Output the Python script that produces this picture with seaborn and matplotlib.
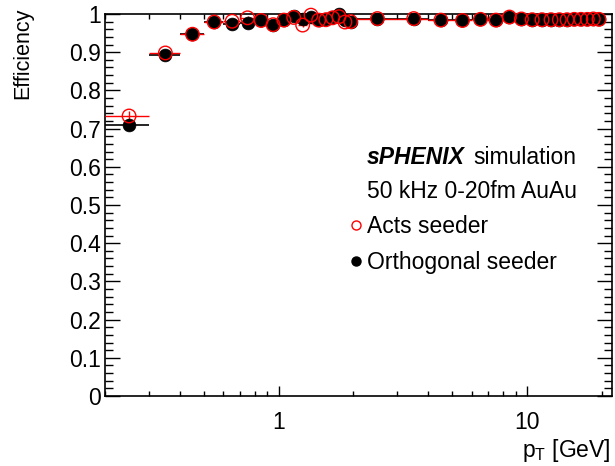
import numpy as np
import pandas as pd
import matplotlib
matplotlib.use("Agg")
import matplotlib.pyplot as plt
from matplotlib.lines import Line2D
from matplotlib.ticker import MultipleLocator, LogLocator, FixedLocator, NullFormatter, FixedFormatter
import seaborn as sns

# ---------------- data ----------------
bin_low = [0.2, 0.3, 0.4, 0.5, 0.6, 0.7, 0.8, 0.9, 1.0, 1.1, 1.2, 1.3, 1.4, 1.5, 1.6, 1.7, 1.8, 1.9,
           2, 3, 4, 5, 6, 7, 8, 9, 10, 11, 12, 13, 14, 15, 16, 17, 18, 19]
bin_high = [0.3, 0.4, 0.5, 0.6, 0.7, 0.8, 0.9, 1.0, 1.1, 1.2, 1.3, 1.4, 1.5, 1.6, 1.7, 1.8, 1.9, 2.0,
            3, 4, 5, 6, 7, 8, 9, 10, 11, 12, 13, 14, 15, 16, 17, 18, 19, 20]
eff_acts = [0.733, 0.898, 0.947, 0.979, 0.981, 0.990, 0.983, 0.972, 0.984, 0.991, 0.971, 0.997,
            0.984, 0.985, 0.990, 0.993, 0.979, 0.980,
            0.988, 0.988, 0.984, 0.983, 0.986, 0.984, 0.992, 0.987, 0.985, 0.985, 0.985, 0.985,
            0.985, 0.986, 0.986, 0.986, 0.987, 0.986]
eff_orth = [0.710, 0.892, 0.947, 0.978, 0.973, 0.977, 0.983, 0.971, 0.983, 0.996, 0.988, 0.991,
            0.983, 0.986, 0.991, 0.999, 0.984, 0.979,
            0.988, 0.988, 0.984, 0.983, 0.986, 0.984, 0.993, 0.987, 0.985, 0.985, 0.985, 0.985,
            0.985, 0.986, 0.986, 0.986, 0.987, 0.986]
err_acts = [0.014, 0.008, 0.006, 0.004, 0.004, 0.004, 0.004, 0.004, 0.004, 0.003, 0.004, 0.003,
            0.003, 0.003, 0.003, 0.003, 0.003, 0.003,
            0.002, 0.002, 0.002, 0.002, 0.002, 0.002, 0.002, 0.002, 0.002, 0.002, 0.002, 0.002,
            0.002, 0.002, 0.002, 0.002, 0.002, 0.002]
err_orth = [0.015, 0.009, 0.006, 0.004, 0.004, 0.004, 0.004, 0.004, 0.004, 0.003, 0.004, 0.003,
            0.003, 0.003, 0.003, 0.003, 0.003, 0.003,
            0.002, 0.002, 0.002, 0.002, 0.002, 0.002, 0.002, 0.002, 0.002, 0.002, 0.002, 0.002,
            0.002, 0.002, 0.002, 0.002, 0.002, 0.002]
y_ticks = [0, 0.1, 0.2, 0.3, 0.4, 0.5, 0.6, 0.7, 0.8, 0.9, 1.0]
y_ticklabels = ["0", "0.1", "0.2", "0.3", "0.4", "0.5", "0.6", "0.7", "0.8", "0.9", "1"]
x_ticks = [1, 10]
x_ticklabels = ["1", "10"]
series_names = ["Acts seeder", "Orthogonal seeder"]

# ---------------- style ----------------
sns.set_theme(style="ticks")
plt.rcParams['font.family'] = ['Liberation Sans', 'DejaVu Sans']
plt.rcParams['mathtext.fontset'] = 'custom'
plt.rcParams['mathtext.rm'] = 'Liberation Sans'
plt.rcParams['text.color'] = 'black'
plt.rcParams['axes.labelcolor'] = 'black'
plt.rcParams['xtick.color'] = 'black'
plt.rcParams['ytick.color'] = 'black'

FS = 16.5
fig = plt.figure(figsize=(6.15, 4.66), dpi=100)
W, H = 615, 466
ax = fig.add_axes([105 / W, 1 - 396 / H, (612 - 105) / W, (396 - 14) / H])

lo = np.array(bin_low)
hi = np.array(bin_high)
ctr = (lo + hi) / 2

df = pd.DataFrame({
    "pt": np.concatenate([ctr, ctr]),
    "eff": np.concatenate([eff_orth, eff_acts]),
    "series": [series_names[1]] * len(ctr) + [series_names[0]] * len(ctr),
})

# error bars
ax.errorbar(ctr, eff_orth, xerr=[ctr - lo, hi - ctr], yerr=err_orth, fmt='none',
            ecolor='black', elinewidth=1.2, capsize=0, zorder=2, clip_on=False)
ax.errorbar(ctr, eff_acts, xerr=[ctr - lo, hi - ctr], yerr=err_acts, fmt='none',
            ecolor='#ff0000', elinewidth=1.0, capsize=0, zorder=3, clip_on=False)

# markers
d_orth = df[df.series == series_names[1]]
d_acts = df[df.series == series_names[0]]
sns.scatterplot(data=d_orth, x="pt", y="eff", ax=ax, color="black", s=85, marker='o',
                edgecolor='black', linewidth=0.5, zorder=4, clip_on=False, legend=False)
sns.scatterplot(data=d_acts, x="pt", y="eff", ax=ax, facecolor='none', s=95, marker='o',
                edgecolor='#ff0000', linewidth=1.0, zorder=5, clip_on=False, legend=False)

ax.set_xscale('log')
ax.set_xlim(0.2, 22)
ax.set_ylim(0, 1.0)
ax.set_xlabel("")
ax.set_ylabel("")

ax.yaxis.set_major_locator(FixedLocator(y_ticks))
ax.yaxis.set_major_formatter(FixedFormatter(y_ticklabels))
ax.yaxis.set_minor_locator(MultipleLocator(0.02))
ax.xaxis.set_major_locator(FixedLocator(x_ticks))
ax.xaxis.set_major_formatter(FixedFormatter(x_ticklabels))
ax.xaxis.set_minor_locator(LogLocator(base=10, subs=np.arange(2, 10), numticks=20))
ax.xaxis.set_minor_formatter(NullFormatter())

for s in ax.spines.values():
    s.set_visible(True)
    s.set_color('black')
    s.set_linewidth(1.2)

ax.tick_params(axis='both', which='both', direction='in', top=True, right=True, colors='black')
ax.tick_params(axis='y', which='major', length=11, width=1.0, labelsize=FS, pad=3)
ax.tick_params(axis='y', which='minor', length=5.5, width=1.0)
ax.tick_params(axis='x', which='major', length=7.5, width=1.0, labelsize=FS, pad=11)
ax.tick_params(axis='x', which='minor', length=3.8, width=1.0)

# axis titles (ROOT-style, aligned to the axis ends)
fig.text(23 / W, 1 - 8 / H, "Efficiency", rotation=90, ha='center', va='top', fontsize=FS - 1)
fig.text(611 / W, 1 - 450 / H, r"p$_\mathregular{T}$ [GeV]", ha='right', va='center', fontsize=FS)

# annotation text
fig.text(367 / W, 1 - 158 / H, "sPHENIX", fontsize=FS, fontweight='bold', fontstyle='italic',
         ha='left', va='center')
fig.text(473 / W, 1 - 158 / H, "simulation", fontsize=FS, ha='left', va='center')
fig.text(367 / W, 1 - 192 / H, "50 kHz 0-20fm AuAu", fontsize=FS, ha='left', va='center')

handles = [
    Line2D([], [], ls='none', marker='o', mfc='none', mec='#ff0000', ms=6.5, mew=1.0),
    Line2D([], [], ls='none', marker='o', mfc='black', mec='black', ms=6.5),
]
leg = ax.legend(handles, series_names, loc='upper left',
                bbox_to_anchor=(350 / W, 1 - 215 / H), bbox_transform=fig.transFigure,
                frameon=False, fontsize=FS, handlelength=0.55, handletextpad=0.2,
                labelspacing=0.58, borderpad=0, borderaxespad=0)

fig.savefig("out.png", dpi=100)
